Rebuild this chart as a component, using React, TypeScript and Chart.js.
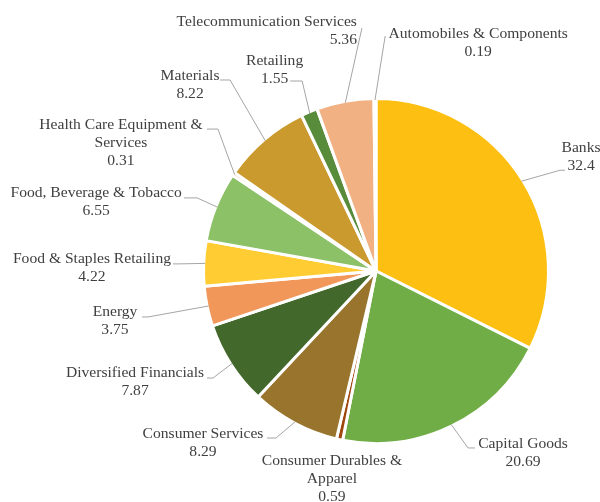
import React, { useEffect, useRef } from 'react';
import { Chart, registerables } from 'chart.js';

Chart.register(...registerables);

const categories = [
  'Banks',
  'Capital Goods',
  'Consumer Durables & Apparel',
  'Consumer Services',
  'Diversified Financials',
  'Energy',
  'Food & Staples Retailing',
  'Food, Beverage & Tobacco',
  'Health Care Equipment & Services',
  'Materials',
  'Retailing',
  'Telecommunication Services',
  'Automobiles & Components',
];

const values = [32.4, 20.69, 0.59, 8.29, 7.87, 3.75, 4.22, 6.55, 0.31, 8.22, 1.55, 5.36, 0.19];

// wrapped label text, as shown in the picture
const labelLines = [
  ['Banks'],
  ['Capital Goods'],
  ['Consumer Durables &', 'Apparel'],
  ['Consumer Services'],
  ['Diversified Financials'],
  ['Energy'],
  ['Food & Staples Retailing'],
  ['Food, Beverage & Tobacco'],
  ['Health Care Equipment &', 'Services'],
  ['Materials'],
  ['Retailing'],
  ['Telecommunication Services'],
  ['Automobiles & Components'],
];

const colors = [
  '#FDC012',
  '#70AD47',
  '#9E480E',
  '#98742C',
  '#43682B',
  '#F1975A',
  '#FFCD33',
  '#8CC168',
  '#D9622B',
  '#CA9A2E',
  '#588C3A',
  '#F2B183',
  '#FFE699',
];

// label placement relative to the slice's outer mid point:
// tx,ty = text anchor (first line centre), ax,ay = leader end, tail = horizontal tail length
const labelLayout = [
  { tx: 59.5, ty: -33, ax: 43.5, ay: -11, tail: -5, align: 'center' },
  { tx: 71.8, ty: 19.4, ax: 23.8, ay: 23.4, tail: -7, align: 'center' },
  { tx: -7.9, ty: 22.9, ax: null, ay: null, tail: 0, align: 'center' },
  { tx: -92.2, ty: 12.3, ax: -28.2, ay: 16.3, tail: 9, align: 'center' },
  { tx: -97.1, ty: 9.6, ax: -25.1, ay: 14.6, tail: 6, align: 'center' },
  { tx: -93.6, ty: 6, ax: -66.6, ay: 11, tail: 6, align: 'center' },
  { tx: -113.2, ty: -4.5, ax: -32.2, ay: 0.5, tail: 6, align: 'center' },
  { tx: -121.3, ty: -14.2, ax: -33.3, ay: -9.2, tail: 13, align: 'center' },
  { tx: -113.8, ty: -49.6, ax: -27.8, ay: -45.6, tail: 11, align: 'center' },
  { tx: -75.2, ty: -64.7, ax: -45.2, ay: -60.7, tail: 10, align: 'center' },
  { tx: -35.2, ty: -52.3, ax: -19.7, ay: -32.3, tail: 12, align: 'center' },
  { tx: 11.6, ty: -80.7, ax: 16.6, ay: -74.7, tail: 0, align: 'right' },
  { tx: 103.2, ty: -66, ax: 10.2, ay: -64, tail: 0, align: 'center' },
];

const FONT = '15.6px "Liberation Serif", "Times New Roman", serif';
const LINE_H = 18;

const labelPlugin = {
  id: 'pieLabels',
  afterDatasetsDraw(chart: any) {
    const ctx = chart.ctx;
    const meta = chart.getDatasetMeta(0);
    ctx.save();
    ctx.font = FONT;
    ctx.textBaseline = 'middle';
    meta.data.forEach((arc: any, i: number) => {
      const p = arc.getProps(['x', 'y', 'startAngle', 'endAngle', 'outerRadius'], true);
      const mid = (p.startAngle + p.endAngle) / 2;
      const r = p.outerRadius - 1.5;
      const ex = p.x + Math.cos(mid) * r;
      const ey = p.y + Math.sin(mid) * r;
      const L = labelLayout[i];
      if (L.ax !== null) {
        const axp = ex + L.ax;
        const ayp = ey + L.ay;
        ctx.beginPath();
        ctx.strokeStyle = '#A5A5A5';
        ctx.lineWidth = 1;
        ctx.moveTo(ex, ey);
        ctx.lineTo(axp + L.tail, ayp);
        ctx.lineTo(axp, ayp);
        ctx.stroke();
      }
      const lines = [...labelLines[i], String(values[i])];
      ctx.fillStyle = '#404040';
      ctx.textAlign = L.align;
      lines.forEach((t, k) => {
        ctx.fillText(t, ex + L.tx, ey + L.ty + k * LINE_H);
      });
    });
    ctx.restore();
  },
};

export default function App() {
  const ref = useRef<HTMLCanvasElement | null>(null);
  useEffect(() => {
    if (!ref.current) return;
    const chart = new Chart(ref.current, {
      type: 'pie',
      data: {
        labels: categories,
        datasets: [
          {
            data: values,
            backgroundColor: colors,
            borderColor: '#FFFFFF',
            borderWidth: 3,
          },
        ],
      },
      options: {
        responsive: false,
        animation: false,
        layout: { padding: { left: 202, top: 97, right: 50, bottom: 57 } },
        plugins: {
          legend: { display: false },
          tooltip: { enabled: false },
        },
      },
      plugins: [labelPlugin],
    });
    return () => chart.destroy();
  }, []);
  return (
    <div style={{ position: 'fixed', left: 0, top: 0, width: 600, height: 502, background: '#fff' }}>
      <canvas ref={ref} width={600} height={502} />
    </div>
  );
}
